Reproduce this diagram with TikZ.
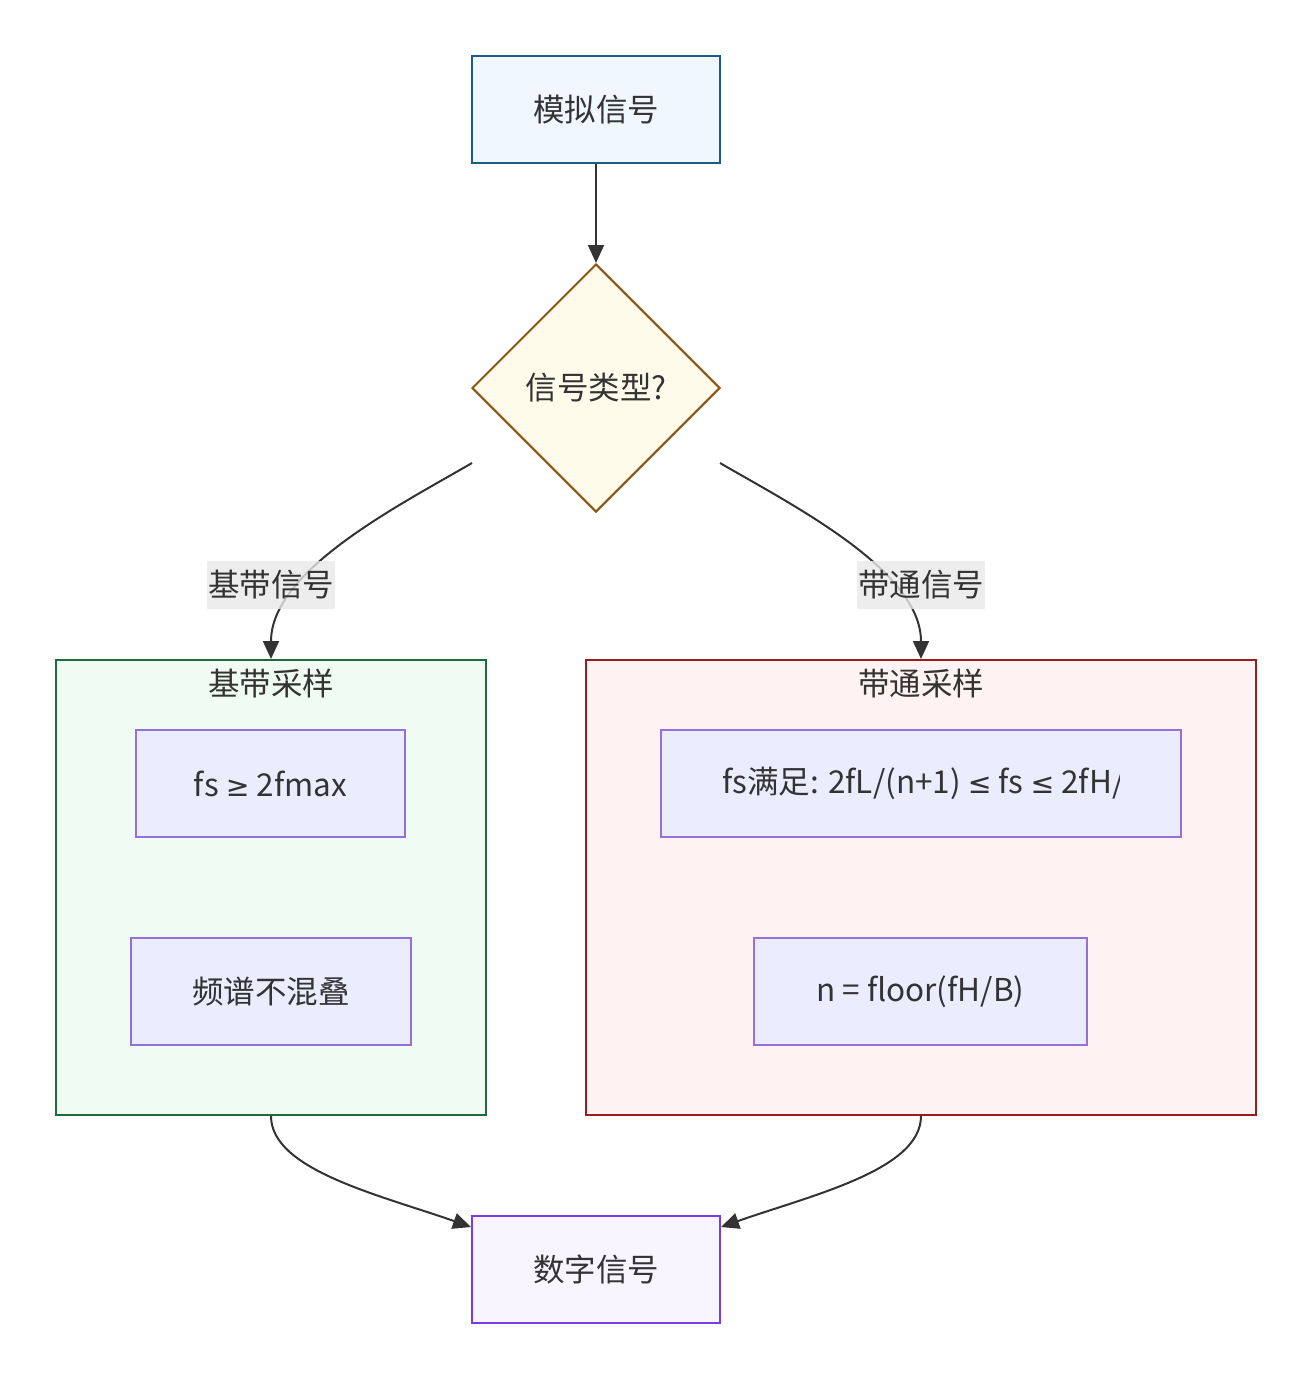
\documentclass[tikz,border=0pt]{standalone}
\usepackage{fontspec}
\setmainfont{Noto Sans CJK SC}
\newfontfamily\symf[Scale=0.9]{DejaVu Sans}
\usetikzlibrary{arrows.meta,shapes.geometric}
\definecolor{txt}{HTML}{333333}
\definecolor{edge}{HTML}{333333}
\definecolor{topfill}{HTML}{F0F7FF}
\definecolor{topline}{HTML}{1A5C86}
\definecolor{dfill}{HTML}{FFFBEA}
\definecolor{dline}{HTML}{8B5515}
\definecolor{gfill}{HTML}{F0FCF3}
\definecolor{gline}{HTML}{1E6B3A}
\definecolor{rfill}{HTML}{FFF2F2}
\definecolor{rline}{HTML}{9B1C1C}
\definecolor{ifill}{HTML}{ECECFF}
\definecolor{iline}{HTML}{9370DB}
\definecolor{bfill}{HTML}{F9F5FF}
\definecolor{bline}{HTML}{7C3AED}
\definecolor{lblfill}{HTML}{E8E8E8}
\begin{document}
\begin{tikzpicture}[x=1pt,y=-1pt,
  every node/.style={text=txt,font=\fontsize{31.5}{38}\selectfont},
  box/.style={draw,line width=2pt,minimum width=#1,minimum height=107pt,inner sep=0pt},
  cluster/.style={draw,line width=2pt,inner sep=0pt},
  lbl/.style={fill=lblfill,fill opacity=0.8,text opacity=1,inner xsep=1pt,inner ysep=0pt,minimum height=48pt,minimum width=127pt},
  conn/.style={draw=edge,line width=2pt,-{Triangle[length=18pt,width=16pt]}}]
\useasboundingbox (0,0) rectangle (1312,1379);
% clusters
\node[cluster,fill=gfill,draw=gline,minimum width=430pt,minimum height=455pt] (lc) at (271,887.5) {};
\node[cluster,fill=rfill,draw=rline,minimum width=670pt,minimum height=455pt] (rc) at (921,887.5) {};
\node (lct) at (271,683) {基带采样};
\node (rct) at (921,683) {带通采样};
% nodes
\node[box=248pt,fill=topfill,draw=topline] (a) at (596,109.5) {模拟信号};
\node[diamond,draw=dline,fill=dfill,line width=2pt,minimum width=248pt,minimum height=248pt,inner sep=0pt] (d) at (596,388) {信号类型?};
\node[box=269pt,fill=ifill,draw=iline] (b1) at (270.5,783.5) {fs {\symf ≥} 2fmax};
\node[box=280pt,fill=ifill,draw=iline] (b2) at (271,991.5) {频谱不混叠};
\node[box=520pt,fill=ifill,draw=iline] (p1) at (921,783.5) {};
\begin{scope}
\clip (661,730) rectangle (1119,837);
\node[anchor=west,inner sep=0pt] (p1t) at (722,783.5) {fs满足: 2fL/(n+1) {\symf ≤} fs {\symf ≤} 2fH/n};
\end{scope}
\node[box=333pt,fill=ifill,draw=iline] (p2) at (920.5,991.5) {n = floor(fH/B)};
\node[box=248pt,fill=bfill,draw=bline] (z) at (596,1269.5) {数字信号};
% connectors
\draw[conn] (a.south) -- (d.north);
\coordinate (dl) at (472,463);
\coordinate (dr) at (720,463);
\draw[conn] (dl) .. controls (400,505) and (271,570) .. (lc.north);
\draw[conn] (dr) .. controls (792,505) and (921,570) .. (rc.north);
\node[lbl] (l1) at (271,585) {基带信号};
\node[lbl] (l2) at (921,585) {带通信号};
\draw[conn] (lc.south) .. controls (271,1170) and (380,1195) .. ([yshift=-12pt]z.north west);
\draw[conn] (rc.south) .. controls (921,1170) and (812,1195) .. ([yshift=-12pt]z.north east);
\end{tikzpicture}
\end{document}
